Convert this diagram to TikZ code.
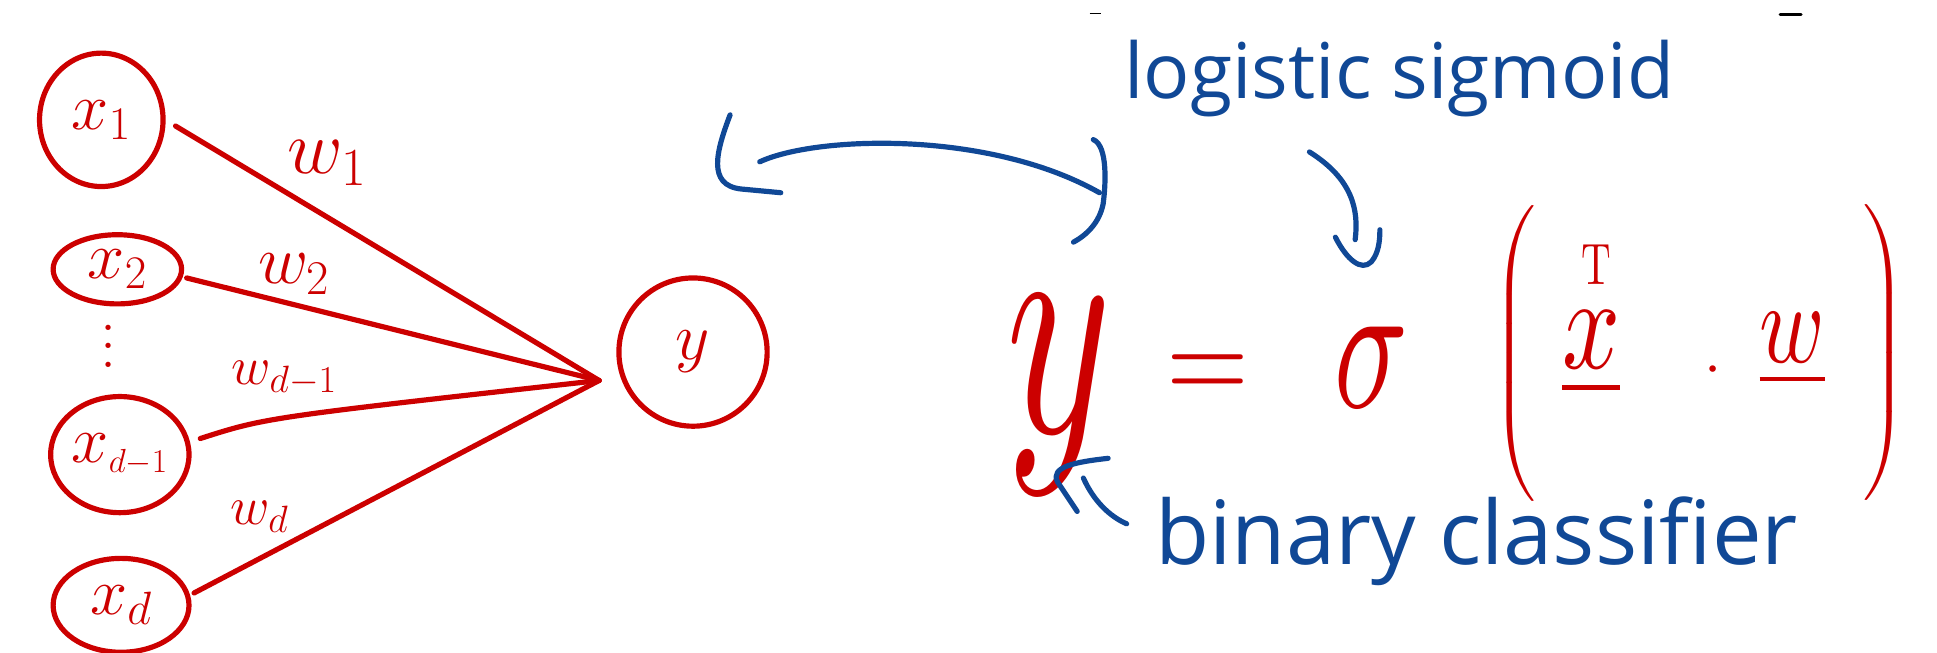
\RequirePackage{fix-cm}
\documentclass[tikz,border=0pt]{standalone}
\usepackage{fontspec}
\newfontfamily\hand{Open Sans}
\DeclareFontShape{OMX}{cmex}{m}{n}{<->cmex10}{}
\usetikzlibrary{shapes.geometric}
\definecolor{pred}{RGB}{204,0,0}
\definecolor{pblue}{RGB}{16,72,150}
\begin{document}
\begin{tikzpicture}[x=1pt,y=-1pt,
  unit/.style={ellipse,draw=pred,line width=4.2pt,inner sep=0pt,text=pred,font=\fontsize{54}{60}\selectfont},
  edge/.style={draw=pred,line width=4.2pt,line cap=round},
  wlab/.style={text=pred,inner sep=0pt},
  ann/.style={draw=pblue,line width=4.2pt,line cap=round,line join=round},
  eq/.style={text=pred,inner sep=0pt},
  btext/.style={text=pblue,inner sep=0pt,anchor=base west},
  ]
\useasboundingbox (0,0) rectangle (1568,528);

% input and output units
\node[unit,minimum width=100pt,minimum height=108pt] (x1) at (82,97) {$x_1$};
\node[unit,minimum width=104pt,minimum height=56pt] (x2) at (95,218) {$x_2$};
\node[text=pred,inner sep=0pt,font=\fontsize{52}{52}\selectfont] (dots) at (88,280) {\vbox{\baselineskip=15pt\hbox{.}\hbox{.}\hbox{.}}};
\node[unit,minimum width=112pt,minimum height=94pt] (xdm) at (97,368) {$x_{\scriptscriptstyle d-1}$};
\node[unit,minimum width=110pt,minimum height=76pt] (xd) at (98,490) {$x_d$};
\node[unit,minimum width=120pt,minimum height=120pt] (yout) at (561,285) {$y$};

\coordinate (conv) at (485,308);
\draw[edge] ([shift={(8,5)}]x1.east) -- (conv);
\draw[edge] ([shift={(2,7)}]x2.east) -- (conv);
\draw[edge] ([shift={(7,-13)}]xdm.east) .. controls (215,338) .. (conv);
\draw[edge] ([shift={(2,-10)}]xd.east) -- (conv);

% weights
\node[wlab,font=\fontsize{62}{66}\selectfont] (w1) at (265,132) {$w_1$};
\node[wlab,font=\fontsize{56}{62}\selectfont] (w2) at (238,222) {$w_2$};
\node[wlab,font=\fontsize{44}{50}\selectfont] (wdm) at (230,306) {$w_{d-1}$};
\node[wlab,font=\fontsize{44}{50}\selectfont] (wd) at (210,418) {$w_d$};

% equation
\node[eq] (ey) at (857,320) {\resizebox*{85pt}{160pt}{$y$}};
\node[eq] (eeq) at (978,306) {\resizebox*{67pt}{37pt}{$=$}};
\node[eq] (esig) at (1110,297) {\resizebox*{60pt}{65pt}{$\sigma$}};
\node[eq,font=\fontsize{40}{40}\selectfont] (elp) at (1226,286) {$\left(\vrule height 108pt depth 108pt width 0pt\right.$};
\node[eq] (ex) at (1288,286) {\resizebox*{47pt}{68pt}{$\underline{x}$}};
\node[eq] (eT) at (1292,214) {\resizebox*{24pt}{32pt}{$\mathrm{T}$}};
\node[eq,font=\fontsize{50}{50}\selectfont] (edot) at (1387,300) {$\cdot$};
\node[eq] (ew) at (1451,283) {\resizebox*{53pt}{59pt}{$\underline{w}$}};
\node[eq,font=\fontsize{40}{40}\selectfont] (erp) at (1525,286) {$\left.\vrule height 111pt depth 111pt width 0pt\right)$};

% annotations
\node[btext] (lsig) at (910,80) {\resizebox{445pt}{!}{\hand logistic sigmoid}};
\node[btext] (bcl) at (935,457) {\resizebox{520pt}{!}{\hand binary classifier}};

% double arrow between the two y's
\coordinate (da1) at (615,131);
\coordinate (da2) at (890,156);
\draw[ann] (da1) .. controls (660,110) and (800,105) .. (da2);
\draw[ann] (591,93) .. controls (580,122) and (572,150) .. (600,153) -- (632,156);
\draw[ann] (885,113) .. controls (897,118) and (895,150) .. (893,165) .. controls (890,180) and (880,190) .. (869,196);

% arrow to sigma
\coordinate (sa1) at (1060,123);
\coordinate (sa2) at (1097,194);
\draw[ann] (sa1) .. controls (1095,145) and (1100,170) .. (sa2);
\draw[ann] (1081,192) .. controls (1090,210) and (1102,220) .. (1110,212) .. controls (1116,205) and (1117,195) .. (1117,186);

% arrow to y
\coordinate (ba1) at (912,424);
\coordinate (ba2) at (877,387);
\draw[ann] (ba1) .. controls (898,418) and (885,405) .. (ba2);
\draw[ann] (897,371) .. controls (870,374) and (850,378) .. (856,390) -- (872,414);

% small marks at the top edge
\draw[black,line width=1.2pt] (882,11) -- (891,11);
\draw[black,line width=2.6pt,line cap=round] (1441,12) -- (1458,12);
\end{tikzpicture}
\end{document}
